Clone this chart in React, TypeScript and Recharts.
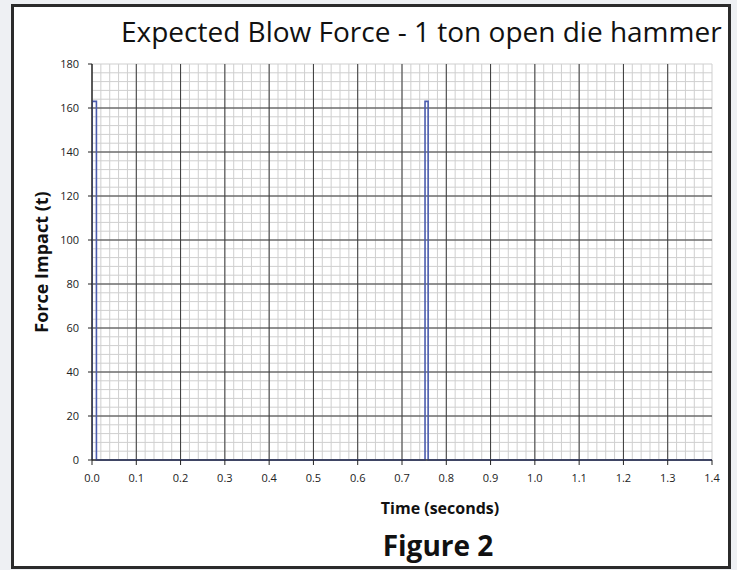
import React from "react";
import {
  LineChart,
  Line,
  XAxis,
  YAxis,
  CartesianGrid,
} from "recharts";

// Time (s) and force (t) of the two blows
const timeSec = [0, 0, 0.01, 0.01, 0.752, 0.752, 0.759, 0.759, 1.4];
const forceT = [0, 163, 163, 0, 0, 163, 163, 0, 0];

const xTicks = [0, 0.1, 0.2, 0.3, 0.4, 0.5, 0.6, 0.7, 0.8, 0.9, 1.0, 1.1, 1.2, 1.3, 1.4];
const yTicks = [0, 20, 40, 60, 80, 100, 120, 140, 160, 180];

const data = timeSec.map((t, i) => ({ t, force: forceT[i] }));

// graph paper: 5 minor divisions between every major tick
const minorX: number[] = [];
for (let i = 0; i <= 70; i++) minorX.push(+(i * 0.02).toFixed(2));
const minorY: number[] = [];
for (let i = 0; i <= 45; i++) minorY.push(i * 4);

const majorX = xTicks.slice(0, -1);
const majorY = yTicks.slice(0, -1);

const FONT = "'Open Sans', 'Noto Sans', sans-serif";
const tickStyle = { fontSize: 11, fill: "#222", fontFamily: FONT };

export default function App() {
  return (
    <div
      style={{
        position: "absolute",
        left: 0,
        top: 0,
        width: 737,
        height: 570,
        background: "#eef0f3",
        fontFamily: FONT,
      }}
    >
      <div
        style={{
          position: "absolute",
          left: 11,
          top: 4,
          width: 720,
          height: 565,
          boxSizing: "border-box",
          border: "3px solid #2b2b2b",
          background: "#fff",
        }}
      />
      <div
        style={{
          position: "absolute",
          left: 121,
          width: 600,
          top: 12,
          textAlign: "center",
          fontSize: 28,
          lineHeight: "38px",
          color: "#111",
          whiteSpace: "nowrap",
        }}
      >
        Expected Blow Force - 1 ton open die hammer
      </div>
      <div
        style={{
          position: "absolute",
          left: 41,
          top: 262,
          transform: "translate(-50%, -50%) rotate(-90deg)",
          fontSize: 18,
          fontWeight: 700,
          color: "#111",
          whiteSpace: "nowrap",
        }}
      >
        Force Impact (t)
      </div>
      <div
        style={{
          position: "absolute",
          left: 440,
          top: 508,
          transform: "translate(-50%, -50%)",
          fontSize: 16,
          fontWeight: 700,
          color: "#111",
          whiteSpace: "nowrap",
        }}
      >
        Time (seconds)
      </div>
      <div
        style={{
          position: "absolute",
          left: 438,
          top: 545,
          transform: "translate(-50%, -50%)",
          fontSize: 28,
          fontWeight: 700,
          color: "#111",
          whiteSpace: "nowrap",
        }}
      >
        Figure 2
      </div>
      <div style={{ position: "absolute", left: 0, top: 0 }}>
        <LineChart
          width={737}
          height={570}
          data={data}
          margin={{ top: 64, right: 25, bottom: 80, left: 52 }}
        >
          <CartesianGrid
            stroke="#cfcfcf"
            strokeWidth={1}
            verticalValues={minorX}
            horizontalValues={minorY}
          />
          <CartesianGrid
            stroke="#3a3a3a"
            strokeWidth={1}
            verticalValues={majorX}
            horizontalValues={majorY}
          />
          <XAxis
            dataKey="t"
            type="number"
            domain={[0, 1.4]}
            ticks={xTicks}
            tickFormatter={(v: number) => v.toFixed(1)}
            tick={tickStyle}
            tickSize={5}
            tickMargin={9}
            stroke="#222"
            height={30}
            interval={0}
            allowDataOverflow
          />
          <YAxis
            type="number"
            domain={[0, 180]}
            ticks={yTicks}
            tick={tickStyle}
            tickSize={4}
            tickMargin={9}
            stroke="#222"
            width={40}
            interval={0}
          />
          <Line
            type="linear"
            dataKey="force"
            stroke="#4b5cae"
            strokeWidth={1.6}
            dot={false}
            activeDot={false}
            isAnimationActive={false}
          />
        </LineChart>
      </div>
    </div>
  );
}
